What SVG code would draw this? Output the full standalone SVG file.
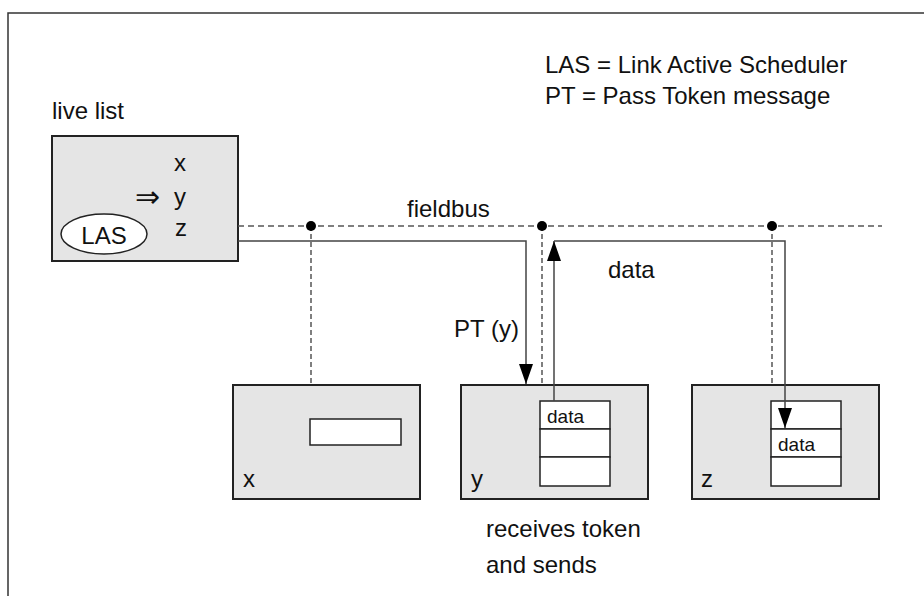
<svg xmlns="http://www.w3.org/2000/svg" width="924" height="596" viewBox="0 0 924 596">
  <style>
    text { font-family: "Liberation Sans", Arial, sans-serif; fill: #111; }
    .t { font-size: 24px; }
    .s { font-size: 19px; }
    .box { fill: #e5e5e5; stroke: #222; stroke-width: 2; }
    .cell { fill: #fff; stroke: #222; stroke-width: 1.5; }
    .bus { fill: none; stroke: #555; stroke-width: 1.5; stroke-dasharray: 6 4; }
    .drop { fill: none; stroke: #555; stroke-width: 1.5; stroke-dasharray: 5 3; }
    .wire { fill: none; stroke: #444; stroke-width: 1.5; }
    .frame { fill: none; stroke: #333; stroke-width: 1.5; }
  </style>
  <defs>
    <marker id="ah" viewBox="0 0 20 14" refX="20" refY="7" markerWidth="20" markerHeight="14" markerUnits="userSpaceOnUse" orient="auto">
      <path d="M0,0 L20,7 L0,14 z" fill="#000"/>
    </marker>
  </defs>
  <rect width="924" height="596" fill="#fff"/>
  <path class="frame" d="M8,596 V13 H924"/>

  <g id="legend">
    <text class="t" x="545" y="73">LAS = Link Active Scheduler</text>
    <text class="t" x="545" y="104">PT = Pass Token message</text>
  </g>

  <g id="livelist">
    <text class="t" x="52" y="119">live list</text>
    <rect class="box" x="52" y="136" width="186" height="125"/>
    <text class="t" x="174" y="171">x</text>
    <text x="135" y="207" style="font-size:30px">⇒</text>
    <text class="t" x="174" y="205">y</text>
    <text class="t" x="175" y="236">z</text>
    <ellipse cx="104" cy="234" rx="43" ry="20" fill="#fff" stroke="#222" stroke-width="1.5"/>
    <text class="t" x="104" y="244" text-anchor="middle">LAS</text>
  </g>

  <g id="node-x">
    <rect class="box" x="233" y="385" width="187" height="114"/>
    <rect class="cell" x="310" y="419" width="91" height="26"/>
    <text class="t" x="243" y="487">x</text>
  </g>

  <g id="node-y">
    <rect class="box" x="461" y="385" width="187" height="114"/>
    <rect class="cell" x="540" y="401" width="70" height="28"/>
    <rect class="cell" x="540" y="429" width="70" height="28"/>
    <rect class="cell" x="540" y="457" width="70" height="29"/>
    <text class="s" x="547" y="423">data</text>
    <text class="t" x="471" y="487">y</text>
    <text class="t" x="486" y="537">receives token</text>
    <text class="t" x="486" y="573">and sends</text>
  </g>

  <g id="node-z">
    <rect class="box" x="692" y="385" width="187" height="114"/>
    <rect class="cell" x="771" y="401" width="70" height="28"/>
    <rect class="cell" x="771" y="429" width="70" height="28"/>
    <rect class="cell" x="771" y="457" width="70" height="29"/>
    <text class="s" x="778" y="451">data</text>
    <text class="t" x="701" y="487">z</text>
  </g>

  <g id="connectors">
    <path class="bus" d="M238,226 H882"/>
    <path class="drop" d="M311,226 V385"/>
    <path class="drop" d="M542,226 V385"/>
    <path class="drop" d="M772,226 V385"/>
    <circle cx="311" cy="226" r="5" fill="#000"/>
    <circle cx="542" cy="226" r="5" fill="#000"/>
    <circle cx="772" cy="226" r="5" fill="#000"/>
    <path class="wire" d="M238,241 H526 V384" marker-end="url(#ah)"/>
    <path class="wire" d="M554,401 V241" marker-end="url(#ah)"/>
    <path class="wire" d="M554,241 H785 V428" marker-end="url(#ah)"/>
    <text class="t" x="407" y="217">fieldbus</text>
    <text class="t" x="454" y="337">PT (y)</text>
    <text class="t" x="608" y="278">data</text>
  </g>
</svg>
